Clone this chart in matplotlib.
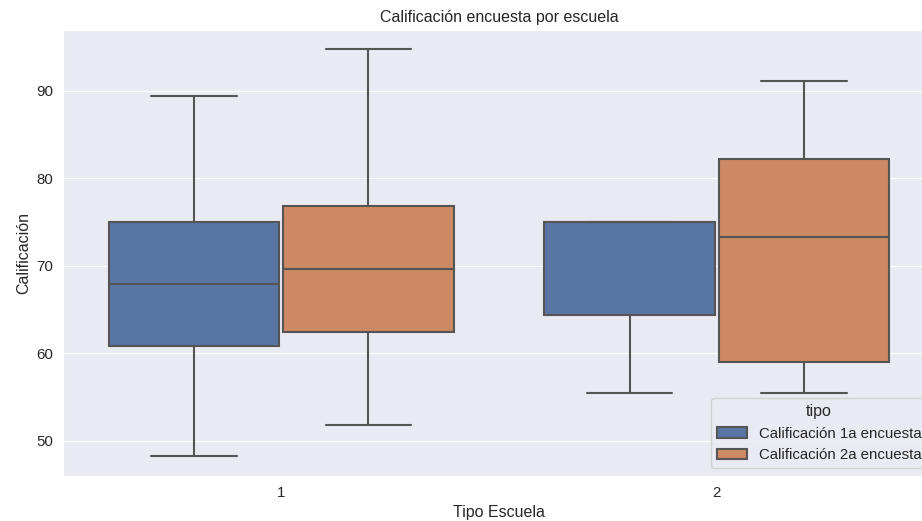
import matplotlib
matplotlib.use("Agg")
import matplotlib.pyplot as plt
import matplotlib.patches as mpatches
import seaborn as sns

# School types and survey series
escuelas = ["1", "2"]
tipos = ["Calificación 1a encuesta", "Calificación 2a encuesta"]

# Box statistics per school, one list per survey
whis_low_1a = [48.3, 55.5]
q1_1a = [60.8, 64.35]
median_1a = [67.9, 75.0]
q3_1a = [75.0, 75.0]
whis_high_1a = [89.35, 75.0]

whis_low_2a = [51.8, 55.5]
q1_2a = [62.5, 59.0]
median_2a = [69.65, 73.25]
q3_2a = [76.8, 82.2]
whis_high_2a = [94.75, 91.1]

colores = ["#5875A4", "#CC8963"]
gris = "#555555"

sns.set_style("darkgrid")
plt.rcParams["font.family"] = ["Liberation Sans", "DejaVu Sans"]

fig = plt.figure(figsize=(9.22, 5.21), dpi=100)
ax = fig.add_axes([0.0687, 0.0864, 0.945, 0.856])

series = [
    (whis_low_1a, q1_1a, median_1a, q3_1a, whis_high_1a),
    (whis_low_2a, q1_2a, median_2a, q3_2a, whis_high_2a),
]
ancho_hue = 0.4
for h, (lo, q1, med, q3, hi) in enumerate(series):
    stats = []
    for i in range(len(escuelas)):
        stats.append(dict(whislo=lo[i], q1=q1[i], med=med[i], q3=q3[i],
                          whishi=hi[i], fliers=[]))
    pos = [i - 0.2 + h * ancho_hue for i in range(len(escuelas))]
    ax.bxp(stats, positions=pos, widths=ancho_hue * 0.98, patch_artist=True,
           showfliers=False, manage_ticks=False,
           boxprops=dict(facecolor=colores[h], edgecolor=gris, linewidth=1.5),
           whiskerprops=dict(color=gris, linewidth=1.5),
           capprops=dict(color=gris, linewidth=1.5),
           medianprops=dict(color=gris, linewidth=1.5))

ax.set_xlim(-0.5, 1.5)
ax.set_ylim(46.0, 96.93)
ax.set_xticks(range(len(escuelas)))
ax.set_xticklabels(escuelas)
ax.set_yticks([50, 60, 70, 80, 90])
ax.xaxis.grid(False)
ax.tick_params(labelsize=10.8)

ax.set_title("Calificación encuesta por escuela", fontsize=11.5)
ax.set_xlabel("Tipo Escuela", fontsize=11.5)
ax.set_ylabel("Calificación", fontsize=11.5)

handles = [mpatches.Patch(facecolor=c, edgecolor=gris, linewidth=1.5, label=t)
           for c, t in zip(colores, tipos)]
ax.legend(handles=handles, title="tipo", loc="lower right", fontsize=10.8,
          title_fontsize=11.5)

fig.savefig("out.png", dpi=100)
